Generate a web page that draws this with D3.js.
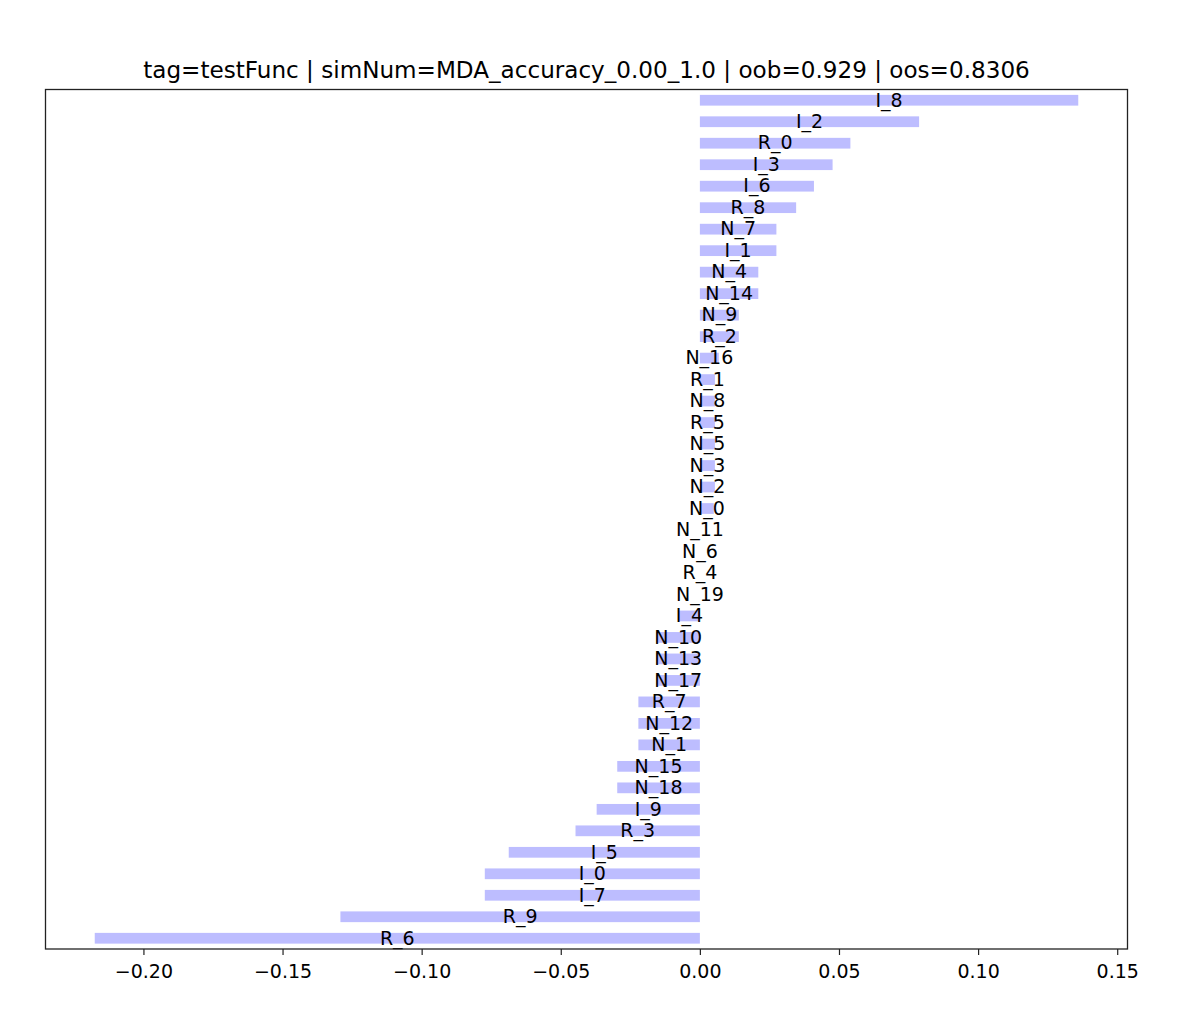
<!DOCTYPE html>
<html>
<head>
<meta charset="utf-8">
<script src="https://cdn.jsdelivr.net/npm/d3@7"></script>
<style>
  html, body { margin: 0; padding: 0; background: #fff; }
  text { font-family: "DejaVu Sans", sans-serif; }
</style>
</head>
<body>
<svg id="chart" width="1200" height="1014"></svg>
<script>
// Feature names, top to bottom as shown
const features = [
  "I_8","I_2","R_0","I_3","I_6","R_8","N_7","I_1","N_4","N_14",
  "N_9","R_2","N_16","R_1","N_8","R_5","N_5","N_3","N_2","N_0",
  "N_11","N_6","R_4","N_19","I_4","N_10","N_13","N_17","R_7","N_12",
  "N_1","N_15","N_18","I_9","R_3","I_5","I_0","I_7","R_9","R_6"
];
// Mean decrease accuracy values
const importance = [
  0.136, 0.0788, 0.0541, 0.0477, 0.041, 0.0346, 0.0275, 0.0275, 0.021, 0.021,
  0.014, 0.014, 0.0068, 0.0054, 0.0054, 0.0054, 0.0054, 0.0054, 0.0054, 0.005,
  0, 0, 0, 0, -0.0075, -0.0156, -0.0156, -0.0156, -0.0221, -0.0221,
  -0.0221, -0.0297, -0.0297, -0.0371, -0.0447, -0.0687, -0.0773, -0.0773, -0.1292, -0.2175
];
const xTicks = [-0.20, -0.15, -0.10, -0.05, 0.00, 0.05, 0.10, 0.15];
const title = "tag=testFunc | simNum=MDA_accuracy_0.00_1.0 | oob=0.929 | oos=0.8306";

const data = features.map((f, i) => ({ name: f, value: importance[i] }));

const mLeft = 45.5, mRight = 1127.5, mTop = 89.5, mBottom = 949;
const svg = d3.select("#chart");

const x = d3.scaleLinear().domain([-0.2352, 0.1537]).range([mLeft, mRight]);
const y = d3.scaleBand().domain(features).range([mTop, mBottom])
  .paddingInner(0.5).paddingOuter(0.25);

// bars
svg.append("g").selectAll("rect").data(data).join("rect")
  .attr("x", d => x(Math.min(0, d.value)))
  .attr("width", d => Math.abs(x(d.value) - x(0)))
  .attr("y", d => y(d.name))
  .attr("height", y.bandwidth())
  .attr("fill", "#bdbdff");

// labels
svg.append("g").selectAll("text").data(data).join("text")
  .attr("x", d => x(d.value / 2))
  .attr("y", d => y(d.name) + y.bandwidth() / 2)
  .attr("dy", "0.33em")
  .attr("text-anchor", "middle")
  .attr("font-size", 19)
  .attr("fill", "#000")
  .text(d => d.name);

// frame
svg.append("rect")
  .attr("x", mLeft).attr("y", mTop)
  .attr("width", mRight - mLeft).attr("height", mBottom - mTop)
  .attr("fill", "none").attr("stroke", "#222").attr("stroke-width", 1.3);

// x axis
const xAxis = d3.axisBottom(x).tickValues(xTicks).tickFormat(d3.format(".2f"))
  .tickSize(6).tickPadding(10);
const gx = svg.append("g").attr("transform", `translate(0,${mBottom})`).call(xAxis);
gx.select(".domain").remove();
gx.selectAll(".tick line").attr("stroke", "#222").attr("stroke-width", 1.2);
gx.selectAll(".tick text").attr("font-size", 19).attr("fill", "#000")
  .attr("font-family", "DejaVu Sans, sans-serif");

// title
svg.append("text")
  .attr("x", (mLeft + mRight) / 2)
  .attr("y", 78)
  .attr("text-anchor", "middle")
  .attr("font-size", 23.1)
  .attr("fill", "#000")
  .text(title);
</script>
</body>
</html>
